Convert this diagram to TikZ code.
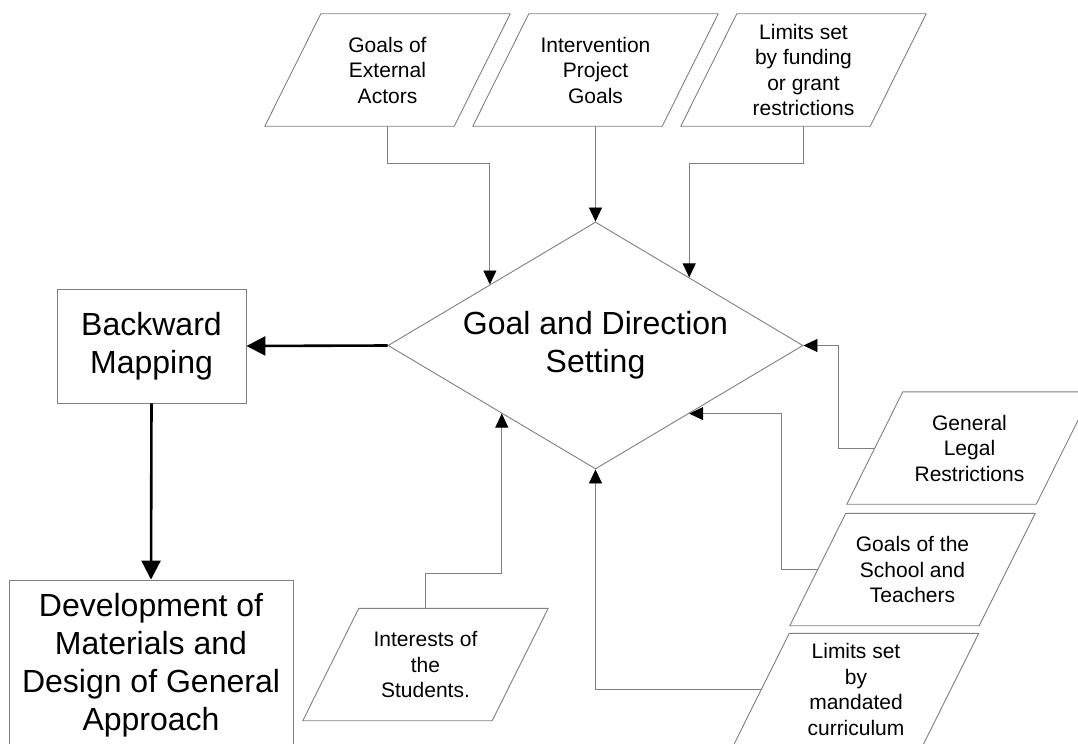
\documentclass[tikz,border=0pt]{standalone}
\usepackage{fontspec}
\setmainfont{Liberation Sans}
\usetikzlibrary{shapes.geometric,arrows.meta,calc}

\definecolor{edgegray}{RGB}{128,128,128}

\tikzset{
  shapeline/.style={draw=edgegray, line width=0.9bp},
  iotext/.style={minimum width=189bp, minimum height=112bp, inner sep=0pt,
    align=center, font=\fontsize{21bp}{25.5bp}\selectfont},
  bigtext/.style={align=center, font=\fontsize{32bp}{38bp}\selectfont},
  procbox/.style={shapeline, bigtext, rectangle, inner sep=0pt},
  decision/.style={shapeline, bigtext, diamond, aspect=1.68, inner sep=0pt,
    minimum width=415bp, minimum height=247bp},
  feedarrow/.style={draw=edgegray, line width=0.9bp,
    -{Triangle[length=14bp,width=13bp,color=black]}},
  mainflow/.style={draw=black, line width=2.6bp,
    -{Triangle[length=19bp,width=19bp]}},
}

% data (input) shape: a parallelogram leaning right around a named text node
\newcommand\ioshape[3]{%
  \node[iotext] (#1) at (#2) {#3};
  \draw[shapeline] ([xshift=-28bp]#1.south west) -- ([xshift=-28bp]#1.south east)
    -- ([xshift=28bp]#1.north east) -- ([xshift=28bp]#1.north west) -- cycle;
}

\begin{document}
\begin{tikzpicture}[x=1bp, y=-1bp]
  \fill[white] (0,0) rectangle (1078,744);
  \useasboundingbox (0,0) rectangle (1078,744);

  % inputs along the top
  \ioshape{p1}{387.5,70}{Goals of\\External\\Actors}
  \ioshape{p2}{595.5,70}{Intervention\\Project\\Goals}
  \ioshape{p3}{803.5,70}{Limits set\\by funding\\or grant\\restrictions}

  % inputs along the bottom
  \ioshape{stu}{425.5,664.5}{Interests of\\the\\Students.}
  \ioshape{legal}{969.5,448}{General\\Legal\\Restrictions}
  \ioshape{school}{912.5,569.5}{Goals of the\\School and\\Teachers}
  \ioshape{curr}{856,689.5}{Limits set\\by\\mandated\\curriculum}

  % central decision and process boxes
  \node[decision] (dia) at (595.5,345.5) {Goal and Direction\\Setting};
  \node[procbox, minimum width=189bp, minimum height=114bp] (bm) at (151.5,346)
    {Backward\\Mapping};
  \node[procbox, minimum width=284bp, minimum height=170bp] (dev) at (151,665)
    {Development of\\Materials and\\Design of General\\Approach};

  % feeding connectors
  \draw[feedarrow] (p1.south) -- ++(0,37) -| (dia.150);
  \draw[feedarrow] (p2.south) -- (dia.north);
  \draw[feedarrow] (p3.south) -- ++(0,37) -| (dia.36);
  \draw[feedarrow] (stu.north) -- ++(0,-35) -| (dia.216);
  \draw[feedarrow] (legal.west) -- ++(-36.5,0) |- (dia.east);
  \draw[feedarrow] (school.west) -- ++(-36.5,0) |- (dia.324);
  \draw[feedarrow] (curr.west) -| (dia.south);

  % main flow
  \draw[mainflow] (dia.west) -- (bm.east);
  \draw[mainflow] (bm.south) -- (dev.north);
\end{tikzpicture}
\end{document}
